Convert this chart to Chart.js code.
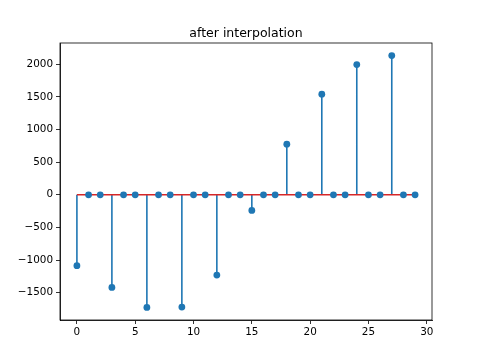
<!DOCTYPE html>
<html>
<head>
<meta charset="utf-8">
<script src="https://cdn.jsdelivr.net/npm/chart.js@4/dist/chart.umd.min.js"></script>
<style>
  html, body { margin: 0; padding: 0; background: #fff; }
  #c { display: block; }
</style>
</head>
<body>
<canvas id="c" width="480" height="360"></canvas>
<script>
// sample index and value after interpolation
var samples = [0, 1, 2, 3, 4, 5, 6, 7, 8, 9, 10, 11, 12, 13, 14, 15, 16, 17, 18, 19, 20, 21, 22, 23, 24, 25, 26, 27, 28, 29];
var values = [-1085, 0, 0, -1418, 0, 0, -1724, 0, 0, -1719, 0, 0, -1229, 0, 0, -240, 0, 0, 775, 0, 0, 1541, 0, 0, 1994, 0, 0, 2131, 0, 0];
var xTicks = [0, 5, 10, 15, 20, 25, 30];
var yTicks = [-1500, -1000, -500, 0, 500, 1000, 1500, 2000];
var title = "after interpolation";

var blue = "#1f77b4";
var red = "#d62728";

// stems: (x,0)->(x,v) then a gap
var stems = [];
var markers = [];
for (var i = 0; i < samples.length; i++) {
    stems.push({x: samples[i], y: 0});
    stems.push({x: samples[i], y: values[i]});
    stems.push({x: samples[i], y: null});
    markers.push({x: samples[i], y: values[i]});
}
var base = [{x: samples[0], y: 0}, {x: samples[samples.length - 1], y: 0}];

// matplotlib-like 5% margins
var xmin = Math.min.apply(null, samples), xmax = Math.max.apply(null, samples);
var ymin = Math.min.apply(null, values), ymax = Math.max.apply(null, values);
var xpad = (xmax - xmin) * 0.05, ypad = (ymax - ymin) * 0.05;

function fmt(v) { return String(v).replace("-", "\u2212"); }

var boxPlugin = {
    id: "box",
    afterDraw: function (chart) {
        var a = chart.chartArea, ctx = chart.ctx;
        ctx.save();
        ctx.strokeStyle = "#000";
        ctx.lineWidth = 0.8;
        ctx.strokeRect(a.left, a.top, a.right - a.left, a.bottom - a.top);
        ctx.fillStyle = "#000";
        ctx.font = "12.5px 'DejaVu Sans'";
        ctx.textAlign = "center";
        ctx.textBaseline = "alphabetic";
        ctx.fillText(title, (a.left + a.right) / 2, a.top - 6);
        ctx.restore();
    }
};

Chart.defaults.font.family = "'DejaVu Sans'";
Chart.defaults.font.size = 10.4;
Chart.defaults.color = "#000";

new Chart(document.getElementById("c"), {
    type: "scatter",
    data: {
        datasets: [
            {
                type: "scatter",
                data: markers,
                backgroundColor: blue,
                borderColor: blue,
                pointRadius: 3.4,
                pointBorderWidth: 0,
                order: 0
            },
            {
                type: "line",
                data: base,
                borderColor: red,
                borderWidth: 1.6,
                pointRadius: 0,
                fill: false,
                order: 1
            },
            {
                type: "line",
                data: stems,
                borderColor: blue,
                borderWidth: 1.6,
                pointRadius: 0,
                spanGaps: false,
                fill: false,
                order: 2
            }
        ]
    },
    options: {
        responsive: false,
        animation: false,
        layout: { padding: { left: 0, right: 48, top: 43, bottom: 0 } },
        plugins: { legend: { display: false }, tooltip: { enabled: false }, title: { display: false } },
        scales: {
            x: {
                type: "linear",
                min: xmin - xpad,
                max: xmax + xpad,
                afterBuildTicks: function (s) { s.ticks = xTicks.map(function (v) { return {value: v}; }); },
                afterFit: function (s) { s.height = 40; },
                ticks: { callback: fmt, padding: 2, maxRotation: 0, autoSkip: false },
                grid: { drawOnChartArea: false, tickLength: 4, color: "#000", tickWidth: 0.8 },
                border: { color: "#000", width: 0.8 }
            },
            y: {
                type: "linear",
                min: ymin - ypad,
                max: ymax + ypad,
                afterBuildTicks: function (s) { s.ticks = yTicks.map(function (v) { return {value: v}; }); },
                afterFit: function (s) { s.width = 60; },
                ticks: { callback: fmt, padding: 3, autoSkip: false },
                grid: { drawOnChartArea: false, tickLength: 4, color: "#000", tickWidth: 0.8 },
                border: { color: "#000", width: 0.8 }
            }
        }
    },
    plugins: [boxPlugin]
});
</script>
</body>
</html>
